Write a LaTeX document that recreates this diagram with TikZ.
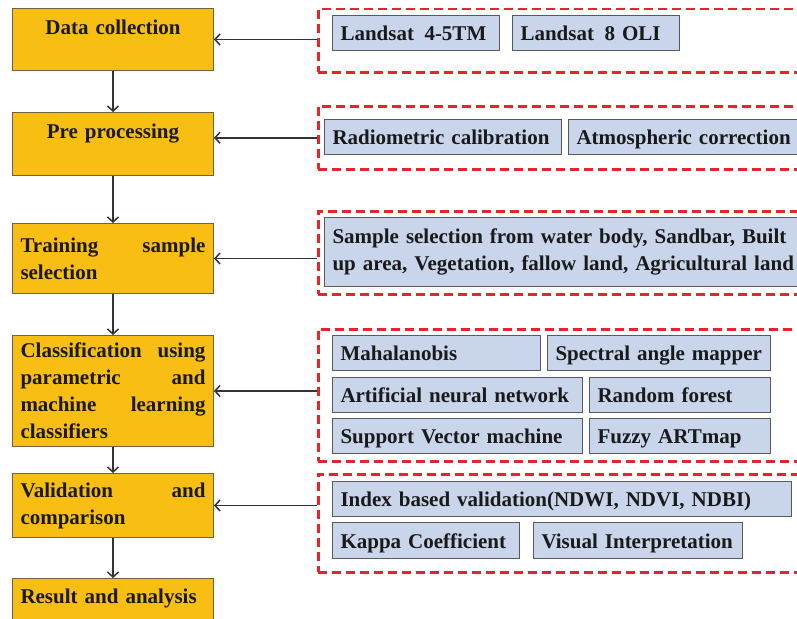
\documentclass[tikz,border=0pt]{standalone}
\usepackage{fontspec}
\setmainfont{Liberation Serif}
\usetikzlibrary{arrows.meta}
\definecolor{ofill}{HTML}{F8BE14}
\definecolor{oborder}{HTML}{6E6240}
\definecolor{bfill}{HTML}{C8D5EA}
\definecolor{bborder}{HTML}{5A5A5A}
\definecolor{dred}{HTML}{E8232A}
\definecolor{lgray}{HTML}{333333}
\definecolor{txt}{HTML}{1A1A1A}
\newcommand{\mfs}{\bfseries\fontsize{21}{27}\selectfont\hyphenpenalty=10000\exhyphenpenalty=10000}
\tikzset{
  obox/.style={draw=oborder, fill=ofill, line width=1pt, inner xsep=8pt, inner ysep=0pt,
    text width=185pt, minimum height=#1, anchor=north west, align=justify, font=\mfs, text=txt},
  bbox/.style={draw=bborder, fill=bfill, line width=1pt, inner xsep=8pt, inner ysep=0pt,
    text width=#1, anchor=north west, align=left, minimum height=35pt, font=\mfs, text=txt},
  oneline/.style={text height=15pt, text depth=0pt},
  dbox/.style={draw=dred, line width=2.5pt, dash pattern=on 9pt off 5pt, anchor=north west,
    minimum width=500pt, minimum height=#1, inner sep=0pt},
  arr/.style={draw=lgray, line width=1.5pt, -{Straight Barb[length=5pt,width=11pt]}}
}
\begin{document}
\begin{tikzpicture}[x=1pt,y=-1pt]
\useasboundingbox (0,0) rectangle (797,618);
\fill[white] (0,0) rectangle (797,618);
\clip (0,0) rectangle (797,618);

% dashed groups
\node[dbox=63pt] (d1) at (317,8) {};
\node[dbox=63pt] (d2) at (317,105) {};
\node[dbox=83pt] (d3) at (317,210) {};
\node[dbox=132pt] (d4) at (317,328) {};
\node[dbox=98pt] (d5) at (317,473) {};

% orange steps
\node[obox=62pt, align=center, text height=16pt, text depth=26pt] (o1) at (12,8) {Data collection};
\node[obox=63pt, align=center, text height=16pt, text depth=27pt] (o2) at (12,112) {Pre processing};
\node[obox=70pt] (o3) at (12,223) {Training sample selection};
\node[obox=111pt] (o4) at (12,335) {Classification using parametric and machine learning classifiers};
\node[obox=64pt] (o5) at (12,473) {Validation and comparison};
\node[obox=50pt, align=left, text height=16pt, text depth=16pt] (o6) at (12,578) {Result and analysis};

% blue items
\node[bbox=151pt, oneline] (b11) at (332,15) {Landsat\, 4-5TM};
\node[bbox=151pt, oneline] (b12) at (512,15) {Landsat\, 8 OLI};
\node[bbox=221pt, oneline] (b21) at (324,119) {Radiometric calibration};
\node[bbox=224pt, oneline] (b22) at (568,119) {Atmospheric correction};
\node[bbox=470pt, minimum height=69pt] (b31) at (324,217) {Sample selection from water body, Sandbar, Built\\up area, Vegetation, fallow land, Agricultural land};
\node[bbox=192pt, oneline] (b41) at (332,335) {Mahalanobis};
\node[bbox=207pt, oneline] (b42) at (547,335) {Spectral angle mapper};
\node[bbox=234pt, oneline] (b43) at (332,377) {Artificial neural network};
\node[bbox=165pt, oneline] (b44) at (589,377) {Random forest};
\node[bbox=234pt, oneline] (b45) at (332,418) {Support Vector machine};
\node[bbox=165pt, oneline] (b46) at (589,418) {Fuzzy ARTmap};
\node[bbox=443pt, oneline] (b51) at (332,481) {Index based validation(NDWI, NDVI, NDBI)};
\node[bbox=171pt, oneline, minimum height=36pt] (b52) at (332,522) {Kappa Coefficient};
\node[bbox=193pt, oneline, minimum height=36pt] (b53) at (533,522) {Visual Interpretation};

% vertical flow
\draw[arr] (o1.south) -- (o2.north);
\draw[arr] (o2.south) -- (o3.north);
\draw[arr] (o3.south) -- (o4.north);
\draw[arr] (o4.south) -- (o5.north);
\draw[arr] (o5.south) -- (o6.north);

% inputs
\draw[arr] (o1.east -| d1.west) -- (o1.east);
\draw[arr] (d2.west) -- (d2.west -| o2.east);
\draw[arr] (o3.east -| d3.west) -- (o3.east);
\draw[arr] (o4.east -| d4.west) -- (o4.east);
\draw[arr] (o5.east -| d5.west) -- (o5.east);
\end{tikzpicture}
\end{document}
